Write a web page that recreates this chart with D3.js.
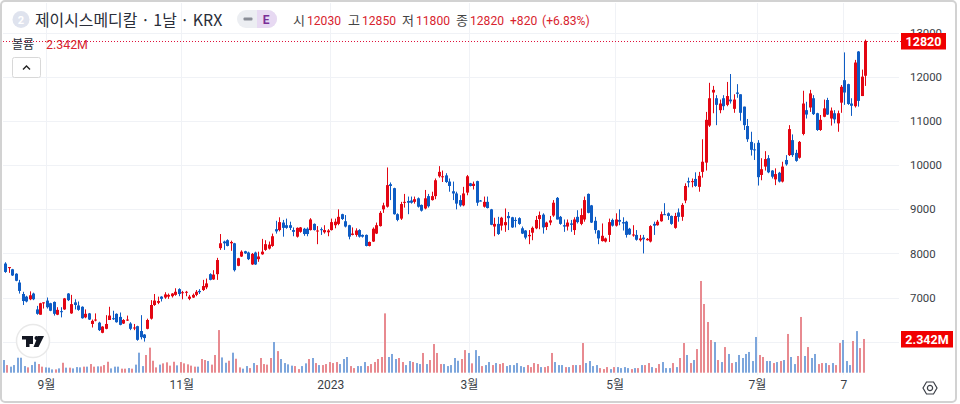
<!DOCTYPE html>
<html>
<head>
<meta charset="utf-8">
<style>
  html, body { margin: 0; padding: 0; background: #fff; overflow: hidden; }
  text { font-family: Roboto, "Noto Sans CJK KR", sans-serif; }
</style>
</head>
<body>
<div id="chart"></div>
<script src="https://cdn.jsdelivr.net/npm/d3@7"></script>
<script>
let opens = [7770,7680,7640,7540,7340,7080,7020,6960,7090,6730,
  6610,6870,6930,6870,6900,6610,6690,6730,7090,6640,
  6890,6820,6790,6550,6640,6400,6490,6430,6200,6290,
  6490,6530,6630,6560,6410,6480,6410,6300,6350,6240,
  6160,6290,6520,6830,6880,7020,7000,7020,7030,7060,
  7190,7100,7110,6970,7000,7060,7150,7170,7230,7530,
  7410,7530,8120,8270,8300,8230,8230,7720,7930,8050,
  8020,7750,8020,7870,7980,8080,8110,8170,8550,8530,
  8700,8640,8640,8530,8380,8490,8560,8560,8530,8670,
  8510,8550,8480,8480,8530,8640,8670,8890,8730,8640,
  8420,8420,8530,8420,8420,8170,8270,8450,8620,9000,
  9060,9570,9480,8890,8790,9150,9190,9200,9170,9250,
  9100,9020,9300,9210,9300,9750,9740,9770,9630,9410,
  9360,9210,9090,9380,9590,9530,9640,9200,9060,9170,
  9000,8610,8670,8630,8640,8850,8820,8760,8800,8570,
  8520,8390,8470,8570,8780,8880,8600,8700,8860,9260,
  8830,8640,8610,8680,8530,8830,8670,8770,9350,9090,
  8740,8520,8280,8270,8420,8760,8630,8760,8710,8720,
  8560,8420,8420,8300,8360,8300,8270,8670,8640,8730,
  8890,8910,8850,8580,8930,8830,9200,9640,9630,9690,
  9510,9850,10060,10900,11650,11520,11250,11520,11370,11490,
  11280,11650,11610,11330,10890,10530,10360,10510,9780,9970,
  10160,9880,9680,9830,9630,10120,10230,10570,10280,10170,
  10710,11250,11310,11520,11180,10800,11100,11480,11060,11180,
  10950,11420,11930,11840,11400,11340,12580,11570,12030];

let closes = [7580,7690,7500,7380,7150,6920,6910,7050,6960,6630,
  6870,6890,6780,6700,6630,6720,6670,6980,6940,6850,
  6830,6720,6530,6630,6500,6470,6500,6260,6340,6400,
  6590,6510,6440,6380,6490,6500,6290,6320,6040,6100,
  6080,6490,6830,6930,6920,6970,7070,7060,7090,7130,
  7080,7120,7130,7020,7060,7130,7120,7260,7320,7400,
  7520,7850,8230,8230,8170,8260,7620,7890,8040,8000,
  7870,7990,7750,7930,8040,8210,8200,8390,8500,8710,
  8580,8580,8580,8490,8580,8590,8440,8440,8770,8530,
  8520,8530,8530,8520,8710,8720,8830,8780,8610,8380,
  8450,8520,8380,8380,8170,8260,8560,8640,8920,9090,
  9550,9530,8890,8760,9120,9170,9150,9150,9230,9060,
  8970,9250,9070,9300,9660,9850,9750,9620,9530,9360,
  9130,9090,9360,9750,9530,9580,9150,9190,9170,9030,
  8650,8670,8440,8810,8710,8800,8590,8740,8670,8450,
  8360,8420,8580,8760,8870,8590,8700,8750,9150,8770,
  8670,8610,8700,8650,8770,8710,8870,9210,8920,8700,
  8530,8340,8400,8340,8710,8630,8770,8720,8680,8420,
  8430,8430,8310,8340,8320,8330,8620,8630,8720,8890,
  8880,8850,8670,8850,8830,9100,9530,9610,9640,9530,
  9760,10080,11030,11520,11710,11370,11400,11340,11570,11450,
  11490,11620,11190,10910,10590,10350,10340,9730,9910,10140,
  9840,9740,9800,9630,9970,10020,10820,10230,10100,10530,
  11400,11150,11630,11160,10800,11030,11290,11150,11240,11040,
  11180,11780,11650,11390,11350,12330,11460,12010,12820];

let highs = [7800,7690,7650,7550,7400,7130,7040,7140,7110,6810,
  6880,6890,7000,6880,6910,6780,6780,6990,7100,7060,
  6960,6910,6800,6730,6650,6500,6640,6450,6350,6600,
  6790,6700,6640,6660,6510,6590,6440,6400,6360,6600,
  6170,6520,6940,7080,7020,7030,7120,7090,7100,7210,
  7210,7150,7150,7060,7090,7170,7190,7400,7430,7550,
  7620,7900,8440,8290,8320,8290,8240,7900,8070,8060,
  8040,8010,8040,8040,8330,8300,8270,8450,8740,8820,
  8760,8790,8720,8590,8590,8600,8580,8590,8800,8680,
  8620,8590,8640,8550,8790,8790,9000,8900,8870,8650,
  8590,8570,8550,8430,8430,8270,8590,8700,8960,9150,
  9950,9610,9490,8910,9170,9350,9290,9290,9290,9270,
  9110,9440,9350,9400,9700,9980,9880,9820,9700,9630,
  9400,9320,9510,9780,9600,9630,9650,9210,9290,9290,
  9010,8810,8830,8830,9020,8940,8830,8820,8820,8610,
  8530,8530,8610,8850,8950,8910,8720,8850,9210,9280,
  8850,8770,8770,8760,8820,8980,9020,9290,9360,9100,
  8830,8530,8680,8360,8790,8790,8910,9000,8820,8740,
  8580,8640,8530,8420,8420,8350,8640,8720,8760,8950,
  9140,8930,8860,8920,9020,9140,9590,9720,9700,9840,
  9850,10590,11210,11870,11800,11590,11490,11590,11890,12070,
  11610,11840,11610,11330,11050,10760,10500,10570,10160,10320,
  10230,9890,9930,9850,10080,10230,10910,10700,10350,10550,
  11690,11440,11710,11590,11190,11140,11490,11530,11310,11250,
  11240,11820,12560,11850,11520,12390,12590,12170,12850];

let lows = [7560,7560,7490,7370,7090,6830,6890,6940,6940,6610,
  6610,6750,6750,6690,6590,6600,6550,6720,6920,6630,
  6730,6700,6520,6530,6490,6320,6460,6240,6190,6280,
  6490,6490,6430,6370,6400,6470,6260,6260,6020,6050,
  6000,6280,6500,6810,6850,6910,6970,6970,7000,7040,
  7030,6960,7030,6940,6990,7030,7080,7150,7190,7390,
  7400,7400,8080,8080,8160,8060,7590,7710,7920,7990,
  7850,7740,7740,7810,7970,8060,8090,8150,8450,8500,
  8380,8560,8530,8390,8360,8470,8400,8390,8520,8520,
  8210,8420,8450,8390,8520,8570,8640,8760,8590,8320,
  8410,8380,8360,8360,8160,8160,8260,8440,8610,8920,
  9040,9210,8880,8730,8760,9040,8890,9130,9130,9040,
  8950,9000,9040,9200,9230,9720,9620,9600,9400,9210,
  9000,9060,9070,9320,9520,9450,9080,9180,9040,9020,
  8640,8390,8420,8520,8490,8530,8580,8590,8650,8440,
  8320,8210,8300,8550,8550,8450,8530,8640,8830,8770,
  8650,8490,8520,8490,8420,8680,8640,8720,8910,8690,
  8450,8210,8270,8250,8260,8610,8610,8640,8520,8360,
  8420,8380,8290,8270,8000,8290,8250,8420,8630,8720,
  8870,8760,8650,8560,8720,8740,9140,9500,9500,9510,
  9400,9720,9880,10870,11180,10910,11180,11250,11340,11400,
  11190,11530,11010,10800,10530,10220,10120,9540,9660,9880,
  9820,9700,9550,9610,9610,9990,10210,10190,10080,10150,
  10680,11060,11210,11140,10780,10780,11090,11140,10900,10950,
  10760,11190,11370,11370,11120,11310,11330,11570,11800];

// millions of shares
let volumes = [.88,.53,.42,.53,1.04,1.04,.46,.37,.53,.76,
  .60,.42,.37,.35,.23,.23,.30,.69,.35,.35,
  .30,.39,.37,.42,.42,.60,.42,.44,.44,.53,
  .76,.30,.42,.42,.28,.28,.32,.28,.56,1.39,
  .46,1.23,1.74,.83,.37,.56,.65,.72,.49,.76,
  .51,.74,.65,.58,.49,.42,.42,.95,.88,.81,
  .56,1.23,2.96,1.06,.69,.83,1.39,.97,.37,.28,
  .46,.32,.67,.53,1.02,.60,.56,1.02,2.13,1.50,
  .95,.67,.58,.49,.46,.25,.46,.65,.95,1.02,
  .67,.53,.53,.60,.74,.67,.74,.60,.95,1.09,
  .46,.32,.46,.46,.74,.46,.60,.74,.95,1.09,
  4.12,1.09,1.30,.95,1.02,.74,.53,.81,.74,.67,
  .60,1.37,.60,.88,1.99,1.37,.60,.60,.46,.53,
  1.02,.83,.95,1.57,1.37,.65,1.57,1.16,.46,.53,
  .74,.53,.67,.60,.67,.46,.53,.53,.67,.46,
  .39,.53,.39,.67,.60,.39,.39,.46,1.37,.74,
  .53,.53,.39,.39,.53,.53,.53,2.06,.67,.81,
  .46,.53,.32,.25,.39,.25,.39,.39,.32,.39,
  .32,.25,.32,.32,.53,.53,.67,.39,.32,.60,
  .74,.32,.32,.67,.39,1.02,2.06,1.23,.67,.88,
  1.64,6.37,4.77,3.52,2.27,2.13,.88,.74,1.78,1.30,
  .67,.74,1.23,1.02,1.30,1.44,.81,2.48,1.23,1.09,
  .81,.81,.67,.74,.81,.88,2.69,1.09,.60,1.16,
  3.87,1.16,1.78,1.02,1.30,.60,.67,.67,.53,.67,
  .53,2.06,2.27,.81,.53,2.20,2.89,1.71,2.342];

let gridTicks = [6000,7000,8000,9000,10000,11000,12000,13000];
let priceTicks = [7000,8000,9000,10000,11000,12000,13000];
let timeTickIndex = [12,51,94,134,176,217,242];
let timeTickLabels = ["9월","11월","2023","3월","5월","7월","7"];

let legendOHLC = [["시","12030",293],["고","12850",348],["저","11800",402],["종","12820",456]];
let lastPrice = 12820;
let lastVolume = 2.342;

const red = "#e30613", blue = "#0e5cc4";
const redSoft = "#e88a90", blueSoft = "#7da6dc";
const gridColor = "#f0f2f6";
const plotRight = 899, plotBottom = 375;

let svg = d3.select("#chart")
    .append("svg")
    .attr("width", 960)
    .attr("height", 404)
    .style("display", "block");

let x = d3.scaleLinear().domain([0, opens.length - 1]).range([5.3, 865.3]);
let y = d3.scaleLinear().domain([6000, 13000]).range([341.6, 33]);
let yVol = d3.scaleLinear().domain([0, 1]).range([372.7, 358.3]);

// frame
svg.append("rect")
    .attr("x", 1).attr("y", 1)
    .attr("width", 955).attr("height", 401)
    .attr("rx", 4)
    .attr("fill", "#fff")
    .attr("stroke", "#d2d2d2")
    .attr("stroke-width", 2);

// grid
svg.selectAll(".hgrid")
    .data(gridTicks)
    .enter()
    .append("rect")
    .attr("class", "hgrid")
    .attr("x", 3)
    .attr("y", d => Math.round(y(d)))
    .attr("width", plotRight - 3)
    .attr("height", 1)
    .attr("fill", gridColor);

svg.selectAll(".vgrid")
    .data(timeTickIndex)
    .enter()
    .append("rect")
    .attr("class", "vgrid")
    .attr("x", d => Math.round(x(d)) - 1)
    .attr("y", 3)
    .attr("width", 1)
    .attr("height", plotBottom - 3)
    .attr("fill", gridColor);

// volume
svg.selectAll(".vol")
    .data(volumes)
    .enter()
    .append("rect")
    .attr("class", "vol")
    .attr("x", (d, i) => Math.round(x(i) - 2.4))
    .attr("y", d => yVol(d))
    .attr("width", 2)
    .attr("height", d => yVol(0) - yVol(d))
    .attr("fill", (d, i) => closes[i] >= opens[i] ? redSoft : blueSoft);

// logo
let logo = svg.append("g").attr("transform", "translate(33,341)");
logo.append("circle")
    .attr("r", 16.5)
    .attr("fill", "#fff")
    .attr("stroke", "#e9e9e9")
    .attr("stroke-width", 1.5);
logo.append("path")
    .attr("d", "M-11,-5H0V3H-3.5V-1.5H-7V-1.5H-11Z M-7,-1.5H-3.5V6H-7Z M1.5,-3A2,2 0 1,1 1.5,-2.9Z M5,-5H11L5.5,6H0.5Z")
    .attr("fill", "#131722");

// candles
let candles = svg.selectAll(".candle")
    .data(opens)
    .enter()
    .append("g")
    .attr("class", "candle")
    .attr("fill", (d, i) => closes[i] >= opens[i] ? red : blue);

candles.append("rect")
    .attr("x", (d, i) => Math.round(x(i)))
    .attr("y", (d, i) => y(highs[i]))
    .attr("width", 1)
    .attr("height", (d, i) => y(lows[i]) - y(highs[i]));

candles.append("rect")
    .attr("x", (d, i) => Math.round(x(i)) - 1)
    .attr("y", (d, i) => y(Math.max(opens[i], closes[i])))
    .attr("width", 3)
    .attr("height", (d, i) => Math.max(1, Math.abs(y(opens[i]) - y(closes[i]))));

// last price line
svg.append("line")
    .attr("x1", 3)
    .attr("x2", plotRight + 2)
    .attr("y1", Math.round(y(lastPrice)) + 0.5)
    .attr("y2", Math.round(y(lastPrice)) + 0.5)
    .attr("stroke", "#e0103a")
    .attr("stroke-width", 1)
    .attr("stroke-dasharray", "1 2");

// axes
let yAxis = d3.axisRight(y).tickValues(priceTicks).tickSize(0).tickPadding(0).tickFormat(d3.format("d"));
let yAxisG = svg.append("g").attr("transform", "translate(910,0)").call(yAxis);
yAxisG.select(".domain").remove();
yAxisG.selectAll("text")
    .attr("fill", "#3a3e46")
    .style("font-size", "11.4px");

let xAxis = d3.axisBottom(x).tickValues(timeTickIndex).tickSize(0).tickPadding(0)
    .tickFormat((d, i) => timeTickLabels[i]);
let xAxisG = svg.append("g").attr("transform", "translate(-1,380)").call(xAxis);
xAxisG.select(".domain").remove();
xAxisG.selectAll("text")
    .attr("fill", "#3a3e46")
    .style("font-size", "12px");

// price tags
let tags = [
    {label: String(lastPrice), cy: y(lastPrice), w: 45},
    {label: lastVolume + "M", cy: yVol(lastVolume), w: 52}
];
let tag = svg.selectAll(".tag").data(tags).enter().append("g").attr("class", "tag");
tag.append("rect")
    .attr("x", 901)
    .attr("y", d => Math.round(d.cy) - 8)
    .attr("width", d => d.w)
    .attr("height", 16.5)
    .attr("fill", "#f00000");
tag.append("text")
    .attr("x", d => 901 + d.w / 2)
    .attr("y", d => Math.round(d.cy) + 4.7)
    .attr("text-anchor", "middle")
    .attr("fill", "#fff")
    .style("font-size", "12.5px")
    .style("font-weight", "700")
    .text(d => d.label);

// header
svg.append("circle").attr("cx", 21).attr("cy", 19.5).attr("r", 8.5).attr("fill", "#dfe3ee");
svg.append("text").attr("x", 21).attr("y", 23.5).attr("text-anchor", "middle")
    .attr("fill", "#fff").style("font-size", "11px").style("font-weight", "700").text("2");
svg.append("text").attr("x", 35).attr("y", 26)
    .attr("fill", "#2a2e39")
    .style("font-family", '"Noto Sans CJK KR", sans-serif')
    .style("font-size", "15.9px")
    .text("제이시스메디칼 · 1날 · KRX");

// pill
svg.append("rect").attr("x", 237).attr("y", 10).attr("width", 40).attr("height", 18).attr("rx", 9).attr("fill", "#eceef2");
svg.append("path").attr("d", "M257,10H268A9,9 0 0 1 268,28H257Z").attr("fill", "#e7d9f2");
svg.append("rect").attr("x", 243.5).attr("y", 17.5).attr("width", 9).attr("height", 3).attr("rx", 1).attr("fill", "#8a8e97");
svg.append("text").attr("x", 266).attr("y", 24).attr("text-anchor", "middle")
    .attr("fill", "#7b2d97").style("font-size", "12px").style("font-weight", "700").text("E");

// ohlc legend
let legend = svg.selectAll(".legend").data(legendOHLC).enter().append("g").attr("class", "legend");
legend.append("text")
    .attr("x", d => d[2]).attr("y", 25)
    .attr("fill", "#444")
    .style("font-family", '"Noto Sans CJK KR", sans-serif')
    .style("font-size", "13px")
    .text(d => d[0]);
legend.append("text")
    .attr("x", d => d[2] + 14).attr("y", 25)
    .attr("fill", "#d8232e")
    .style("font-size", "12.1px")
    .text(d => d[1]);
svg.append("text").attr("x", 510).attr("y", 25)
    .attr("fill", "#d8232e").style("font-size", "12.1px").text("+820");
svg.append("text").attr("x", 542).attr("y", 25)
    .attr("fill", "#d8232e").style("font-size", "12.1px").text("(+6.83%)");

// volume legend
svg.append("text").attr("x", 12).attr("y", 49)
    .attr("fill", "#2a2e39")
    .style("font-family", '"Noto Sans CJK KR", sans-serif')
    .style("font-size", "12px")
    .text("볼륨");
svg.append("text").attr("x", 46).attr("y", 48.5)
    .attr("fill", "#d8232e").style("font-size", "12.4px").text(lastVolume + "M");

// collapse button
svg.append("rect").attr("x", 12.5).attr("y", 57.5).attr("width", 28).attr("height", 20).attr("rx", 2)
    .attr("fill", "#fff").attr("stroke", "#d8d8d8");
svg.append("path").attr("d", "M23,69.5L26.5,66L30,69.5")
    .attr("fill", "none").attr("stroke", "#222").attr("stroke-width", 1.4);

// settings icon
let gear = svg.append("g").attr("transform", "translate(930,388)").attr("fill", "none").attr("stroke", "#3a3e46").attr("stroke-width", 1.2);
gear.append("path").attr("d", "M-7,0L-3.5,-6H3.5L7,0L3.5,6H-3.5Z");
gear.append("circle").attr("r", 2.6);
</script>
</body>
</html>
